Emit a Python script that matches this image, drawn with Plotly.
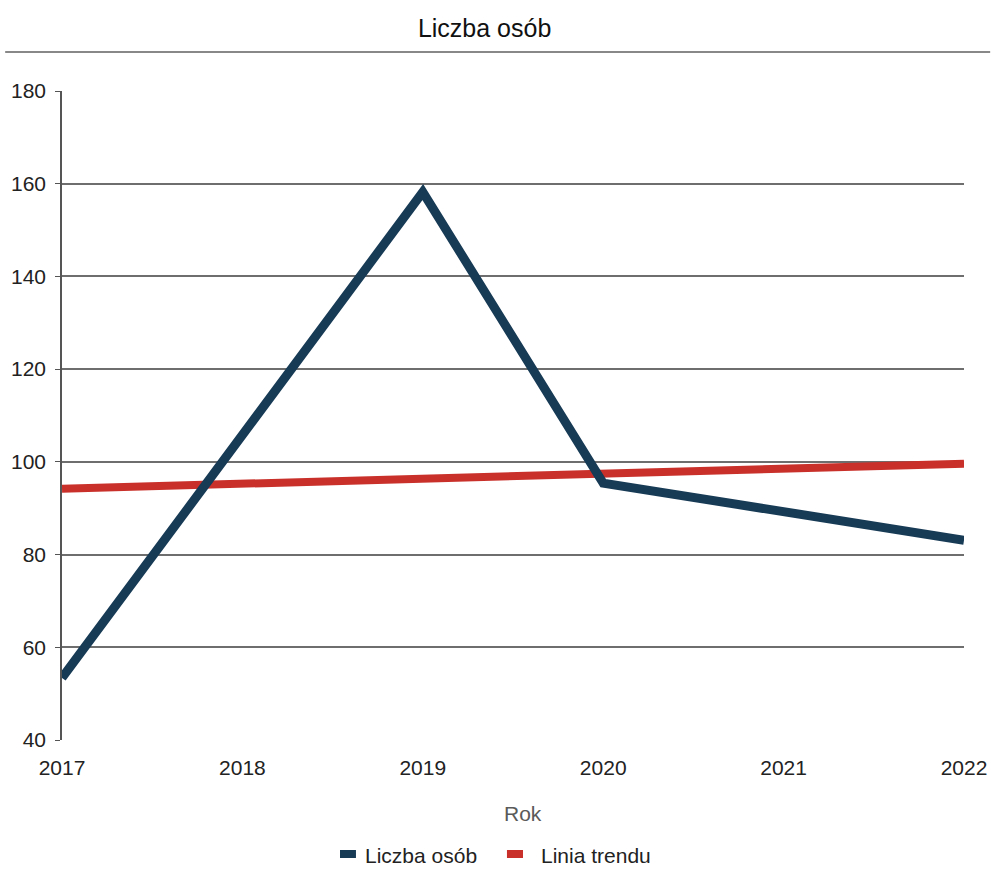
import plotly.graph_objects as go

years = [2017, 2018, 2019, 2020, 2021, 2022]
liczba_osob = [53.4, 105.6, 158.2, 95.4, 89.2, 83.1]
trend_years = [2017, 2022]
trend_values = [94.2, 99.6]
y_ticks = [40, 60, 80, 100, 120, 140, 160, 180]
series_names = ["Liczba osób", "Linia trendu"]

navy = "#173a55"
red = "#c9302a"
font = "Liberation Sans, Arial, sans-serif"

fig = go.Figure()
fig.add_trace(go.Scatter(x=trend_years, y=trend_values, mode="lines", name=series_names[1],
                         line=dict(color=red, width=8), showlegend=False,
                         cliponaxis=False))
fig.add_trace(go.Scatter(x=years, y=liczba_osob, mode="lines", name=series_names[0],
                         line=dict(color=navy, width=9), showlegend=False,
                         cliponaxis=False))

fig.update_layout(
    width=991, height=870,
    margin=dict(l=62, r=27, t=91, b=130, autoexpand=False),
    paper_bgcolor="white", plot_bgcolor="white",
    font=dict(family=font, size=21, color="#222"),
    showlegend=False,
    title=dict(text="Liczba osób", x=0.489, xanchor="center", y=0.968, yanchor="middle",
               font=dict(family=font, size=25, color="#111")),
    xaxis=dict(range=[2017, 2022], tickvals=years, ticktext=[str(y) for y in years],
               showgrid=False, zeroline=False, showline=False, ticks="",
               automargin=False,
               tickfont=dict(size=21, color="#222"), ticklabelstandoff=13),
    yaxis=dict(range=[40, 180], tickvals=y_ticks, showgrid=True, gridcolor="#6e6e6e",
               gridwidth=1.5, zeroline=False, showline=True, linecolor="#555",
               linewidth=1.5, ticks="outside", ticklen=5, tickcolor="#555",
               automargin=False,
               tickfont=dict(size=21, color="#222"), ticklabelstandoff=5),
)
fig.add_annotation(text="Rok", xref="paper", yref="paper", x=0.511, y=-0.1125,
                   xanchor="center", yanchor="middle", showarrow=False,
                   font=dict(size=21, color="#5a5a5a"))
fig.add_shape(type="line", xref="paper", yref="paper",
              x0=-0.063, x1=1.029, y0=1.060, y1=1.060,
              line=dict(color="#888", width=2))

# legend (drawn as swatches + labels below the axis title)
legend_items = [(series_names[0], navy, 0.3082, 0.3259, 0.3337),
                (series_names[1], red, 0.4933, 0.5111, 0.5288)]
for name, col, sx0, sx1, tx in legend_items:
    fig.add_shape(type="rect", xref="paper", yref="paper",
                  x0=sx0, x1=sx1, y0=-0.1818, y1=-0.1695,
                  fillcolor=col, line=dict(width=0))
    fig.add_annotation(text=name, xref="paper", yref="paper", x=tx, y=-0.1772,
                       xanchor="left", yanchor="middle", showarrow=False,
                       font=dict(size=21, color="#222"))

fig.write_html("out.html", config={"displayModeBar": False},
               post_script="document.body.style.margin='0';")
